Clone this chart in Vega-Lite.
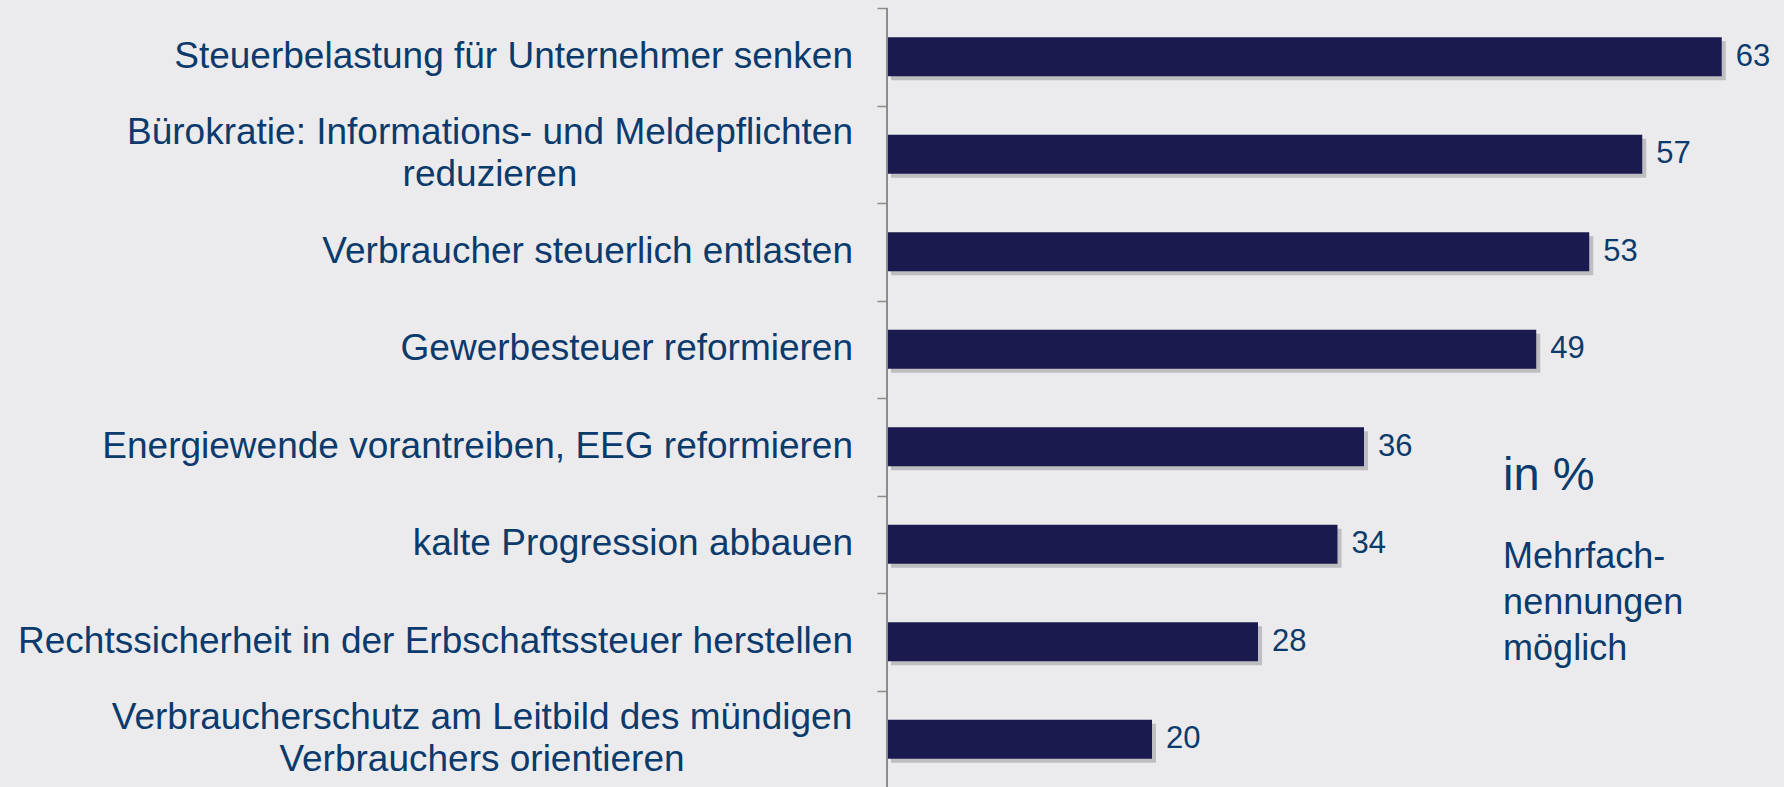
{
  "$schema": "https://vega.github.io/schema/vega-lite/v6.json",
  "width": 897,
  "height": 780,
  "autosize": {"type": "none"},
  "padding": {"left": 887, "top": 8, "right": 0, "bottom": 0},
  "background": "#ebebed",
  "config": {"view": {"stroke": null}, "font": "Liberation Sans"},
  "data": {
    "values": [
      {"Massnahme": "Steuerbelastung für Unternehmer senken", "Anteil": 63},
      {"Massnahme": "Bürokratie: Informations- und Meldepflichten\nreduzieren", "Anteil": 57},
      {"Massnahme": "Verbraucher steuerlich entlasten", "Anteil": 53},
      {"Massnahme": "Gewerbesteuer reformieren", "Anteil": 49},
      {"Massnahme": "Energiewende vorantreiben, EEG reformieren", "Anteil": 36},
      {"Massnahme": "kalte Progression abbauen", "Anteil": 34},
      {"Massnahme": "Rechtssicherheit in der Erbschaftssteuer herstellen", "Anteil": 28},
      {"Massnahme": "Verbraucherschutz am Leitbild des mündigen\nVerbrauchers orientieren", "Anteil": 20}
    ]
  },
  "layer": [
    {
      "mark": {"type": "bar", "height": {"band": 0.4}, "color": "#55555e", "opacity": 0.3, "xOffset": 4, "x2Offset": 4, "yOffset": 4, "y2Offset": 4},
      "encoding": {
        "y": {
          "field": "Massnahme",
          "type": "nominal",
          "sort": null,
          "scale": {"paddingInner": 0, "paddingOuter": 0},
          "axis": {
            "title": null,
            "labels": false,
            "domain": false,
            "ticks": true,
            "tickOffset": -48.75,
            "tickSize": 10,
            "tickColor": "#8c8c8c",
            "tickWidth": 1.5
          }
        },
        "x": {"field": "Anteil", "type": "quantitative", "scale": {"domain": [0, 67.7], "nice": false}, "axis": null}
      }
    },
    {
      "mark": {"type": "bar", "height": {"band": 0.4}, "color": "#1b1a4e"},
      "encoding": {
        "y": {"field": "Massnahme", "type": "nominal", "sort": null},
        "x": {"field": "Anteil", "type": "quantitative", "axis": null}
      }
    },
    {
      "mark": {"type": "rule", "color": "#8c8c8c", "strokeWidth": 1.5},
      "encoding": {
        "x": {"datum": 0, "type": "quantitative", "axis": null}
      }
    },
    {
      "mark": {"type": "text", "align": "left", "baseline": "middle", "dx": 14, "fontSize": 31, "color": "#0b3a6c", "font": "Liberation Sans"},
      "encoding": {
        "y": {"field": "Massnahme", "type": "nominal", "sort": null},
        "x": {"field": "Anteil", "type": "quantitative", "axis": null},
        "text": {"field": "Anteil", "type": "quantitative"}
      }
    },
    {
      "transform": [{"filter": "indexof(datum.Massnahme, '\\n') < 0"}],
      "mark": {"type": "text", "align": "right", "baseline": "middle", "dx": -34, "fontSize": 37, "color": "#0b3a6c", "font": "Liberation Sans"},
      "encoding": {
        "y": {"field": "Massnahme", "type": "nominal", "sort": null},
        "x": {"datum": 0, "type": "quantitative", "axis": null},
        "text": {"field": "Massnahme", "type": "nominal"}
      }
    },
    {
      "transform": [{"filter": "indexof(datum.Massnahme, 'Bürokratie') >= 0"}],
      "mark": {"type": "text", "align": "center", "baseline": "middle", "dx": -397, "dy": -21, "fontSize": 37, "lineHeight": 42, "lineBreak": "\n", "color": "#0b3a6c", "font": "Liberation Sans"},
      "encoding": {
        "y": {"field": "Massnahme", "type": "nominal", "sort": null},
        "x": {"datum": 0, "type": "quantitative", "axis": null},
        "text": {"field": "Massnahme", "type": "nominal"}
      }
    },
    {
      "transform": [{"filter": "indexof(datum.Massnahme, 'mündigen') >= 0"}],
      "mark": {"type": "text", "align": "center", "baseline": "middle", "dx": -405, "dy": -21, "fontSize": 37, "lineHeight": 42, "lineBreak": "\n", "color": "#0b3a6c", "font": "Liberation Sans"},
      "encoding": {
        "y": {"field": "Massnahme", "type": "nominal", "sort": null},
        "x": {"datum": 0, "type": "quantitative", "axis": null},
        "text": {"field": "Massnahme", "type": "nominal"}
      }
    },
    {
      "data": {"values": [{"label": "in %"}]},
      "mark": {"type": "text", "align": "left", "baseline": "alphabetic", "dy": 43, "fontSize": 47, "color": "#0b3a6c", "font": "Liberation Sans"},
      "encoding": {
        "x": {"datum": 46.5, "type": "quantitative", "axis": null},
        "y": {"datum": "Energiewende vorantreiben, EEG reformieren", "type": "nominal"},
        "text": {"field": "label", "type": "nominal"}
      }
    },
    {
      "data": {"values": [{"label": "Mehrfach-\nnennungen\nmöglich"}]},
      "mark": {"type": "text", "align": "left", "baseline": "alphabetic", "dy": 23.5, "fontSize": 36, "lineHeight": 46, "lineBreak": "\n", "color": "#0b3a6c", "font": "Liberation Sans"},
      "encoding": {
        "x": {"datum": 46.5, "type": "quantitative", "axis": null},
        "y": {"datum": "kalte Progression abbauen", "type": "nominal"},
        "text": {"field": "label", "type": "nominal"}
      }
    }
  ]
}
